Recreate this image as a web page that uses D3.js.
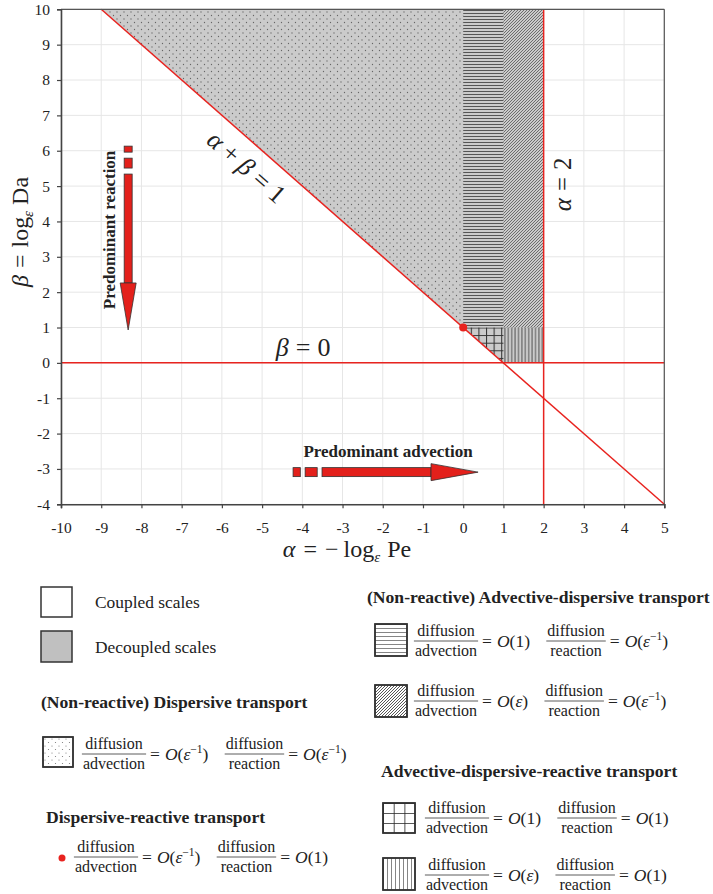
<!DOCTYPE html>
<html>
<head>
<meta charset="utf-8">
<script src="https://cdn.jsdelivr.net/npm/d3@7"></script>
<style>
body{margin:0;background:#fff}
svg text{font-family:"Liberation Serif","Times New Roman",serif;fill:#222}
</style>
</head>
<body>
<svg id="chart" width="713" height="894"></svg>
<script>
// axis ticks
var xTicks = d3.range(-10, 6);
var yTicks = d3.range(-4, 11);

// regions of the (alpha, beta) plane
var decoupled   = [[-9,10],[1,0],[2,0],[2,10]];
var dispersive  = [[-9,10],[0,1],[0,10]];
var advDispOne  = [[0,1],[1,1],[1,10],[0,10]];
var advDispEps  = [[1,1],[2,1],[2,10],[1,10]];
var adrOne      = [[0,1],[1,1],[1,0]];
var adrEps      = [[1,0],[2,0],[2,1],[1,1]];
var dispReactive = [[0,1]];

// boundary lines: alpha+beta=1, beta=0, alpha=2
var boundaries = [[[-9,10],[5,-4]], [[-10,0],[5,0]], [[2,-4],[2,10]]];

// arrows (data coords)
var reactionX = -8.33, reactionDashes = [[6.13,5.96],[5.79,5.51],[5.34,2.26]], reactionTip = 0.93;
var advectionY = -3.09, advectionDashes = [[-4.23,-4.05],[-3.93,-3.63],[-3.51,-0.80]], advectionTip = 0.37;

var red = '#e8231f';
var svg = d3.select('#chart');

var x = d3.scaleLinear().domain([-10,5]).range([61,664.3]);
var y = d3.scaleLinear().domain([-4,10]).range([504.3,9.3]);

var defs = svg.append('defs');
function pat(id, w, h, px, py){
  return defs.append('pattern').attr('id',id).attr('patternUnits','userSpaceOnUse')
    .attr('width',w).attr('height',h).attr('x',px||0).attr('y',py||0);
}
var p;
p = pat('dots',7,7);
p.append('circle').attr('cx',1.5).attr('cy',1.5).attr('r',0.65).attr('fill','#666');
p.append('circle').attr('cx',5).attr('cy',5).attr('r',0.65).attr('fill','#666');
p = pat('hlines',4,3);
p.append('line').attr('x1',0).attr('x2',4).attr('y1',1.5).attr('y2',1.5).attr('stroke','#555').attr('stroke-width',1);
p = pat('diag',3,3);
p.append('path').attr('d','M-1,1 l2,-2 M0,3 l3,-3 M2,4 l2,-2').attr('stroke','#555').attr('stroke-width',0.8);
p = pat('grid',7.6,7.6,x(0),y(1));
p.append('path').attr('d','M0,0.5 H7.6 M0.5,0 V7.6').attr('stroke','#333').attr('stroke-width',1.1).attr('fill','none');
p = pat('vlines',3.4,4);
p.append('line').attr('x1',1.7).attr('x2',1.7).attr('y1',0).attr('y2',4).attr('stroke','#555').attr('stroke-width',1);

// legend patterns
p = pat('dotsL',7,7,43,737);
p.append('circle').attr('cx',2).attr('cy',2).attr('r',0.6).attr('fill','#777');
p.append('circle').attr('cx',5.5).attr('cy',5.5).attr('r',0.6).attr('fill','#777');
p = pat('hlinesL',6,4,375,624);
p.append('line').attr('x1',0).attr('x2',6).attr('y1',0).attr('y2',0).attr('stroke','#333').attr('stroke-width',1.2);
p = pat('diagL',3,3);
p.append('path').attr('d','M-1,1 l2,-2 M0,3 l3,-3 M2,4 l2,-2').attr('stroke','#444').attr('stroke-width',0.9);
p = pat('gridL',10.7,10,383,803);
p.append('path').attr('d','M0,0 H10.7 M0,0 V10').attr('stroke','#222').attr('stroke-width',1.6).attr('fill','none');
p = pat('vlinesL',4,6,383,858);
p.append('line').attr('x1',0).attr('x2',0).attr('y1',0).attr('y2',6).attr('stroke','#333').attr('stroke-width',1.2);

// gridlines
var grid = svg.append('g');
grid.selectAll('.gx').data(xTicks).enter().append('line')
  .attr('x1',d=>x(d)).attr('x2',d=>x(d)).attr('y1',y(-4)).attr('y2',y(10))
  .attr('stroke','#e6e6e6').attr('stroke-width',1);
grid.selectAll('.gy').data(yTicks).enter().append('line')
  .attr('y1',d=>y(d)).attr('y2',d=>y(d)).attr('x1',x(-10)).attr('x2',x(5))
  .attr('stroke','#e6e6e6').attr('stroke-width',1);

var line = d3.line().x(d=>x(d[0])).y(d=>y(d[1]));
var poly = function(pts){ return line(pts) + 'Z'; };

svg.append('path').attr('d',poly(decoupled)).attr('fill','#cbcbcb');
svg.append('path').attr('d',poly(dispersive)).attr('fill','url(#dots)');
svg.append('path').attr('d',poly(advDispOne)).attr('fill','url(#hlines)');
svg.append('path').attr('d',poly(advDispEps)).attr('fill','url(#diag)');
svg.append('path').attr('d',poly(adrOne)).attr('fill','url(#grid)');
svg.append('path').attr('d',poly(adrEps)).attr('fill','url(#vlines)');

svg.selectAll('.bnd').data(boundaries).enter().append('path')
  .attr('d',line).attr('stroke',red).attr('stroke-width',1.5).attr('fill','none');

svg.selectAll('.pt').data(dispReactive).enter().append('circle')
  .attr('cx',d=>x(d[0])).attr('cy',d=>y(d[1])).attr('r',4).attr('fill',red);

// frame
svg.append('line').attr('x1',x(-10)).attr('x2',x(5)).attr('y1',y(10)).attr('y2',y(10)).attr('stroke','#555').attr('stroke-width',1.2);
svg.append('line').attr('x1',x(5)).attr('x2',x(5)).attr('y1',y(10)).attr('y2',y(-4)).attr('stroke','#555').attr('stroke-width',1.2);

var ax = svg.append('g').attr('transform','translate(0,'+y(-4)+')')
  .call(d3.axisBottom(x).tickValues(xTicks).tickSize(4).tickPadding(14).tickFormat(String));
var ay = svg.append('g').attr('transform','translate('+x(-10)+',0)')
  .call(d3.axisLeft(y).tickValues(yTicks).tickSize(4).tickPadding(7).tickFormat(String));
[ax,ay].forEach(function(a){
  a.select('.domain').attr('stroke','#444').attr('stroke-width',1.6);
  a.selectAll('.tick line').attr('stroke','#444').attr('stroke-width',1.2);
  a.selectAll('.tick text').attr('font-size',15.5).attr('font-family','"Liberation Serif",serif').attr('fill','#1a1a1a');
});

// math helper: parts = [text, italic, dy, size, dx]
function mathText(g, parts, size){
  var t = g.append('text').attr('font-size',size);
  parts.forEach(function(q){
    var s = t.append('tspan').text(q[0]);
    if(q[1]) s.attr('font-style','italic');
    if(q[2]) s.attr('dy',q[2]);
    if(q[3]) s.attr('font-size',q[3]);
    if(q[4]) s.attr('dx',q[4]);
  });
  return t;
}

// axis labels
mathText(svg,[['α',1],['=',0,0,0,8],['−',0,0,0,8],['log',0,0,0,5],['ε',1,5,15],['Pe',0,-5,0,7]],24)
  .attr('x',347).attr('y',557).attr('text-anchor','middle');
mathText(svg,[['β',1],['=',0,0,0,7],['log',0,0,0,7],['ε',1,5,15],['Da',0,-5,0,6]],24)
  .attr('text-anchor','middle').attr('transform','translate(28,232) rotate(-90)');

// annotations on plot
var ang = Math.atan2(y(0)-y(1), x(1)-x(0))*180/Math.PI;
mathText(svg,[['α',1],['+',0,0,0,6],['β',1,0,0,6],['=',0,0,0,7],['1',0,0,0,7]],26)
  .attr('text-anchor','middle').attr('dy','0.35em')
  .attr('transform','translate('+x(-5.38)+','+y(5.55)+') rotate('+ang+')');
mathText(svg,[['β',1],['=',0,0,0,7],['0',0,0,0,7]],26)
  .attr('text-anchor','middle').attr('x',x(-3.98)).attr('y',y(0.2));
mathText(svg,[['α',1],['=',0,0,0,7],['2',0,0,0,7]],25)
  .attr('text-anchor','middle').attr('dy','0.35em')
  .attr('transform','translate('+x(2.46)+','+y(5.05)+') rotate(-90)');

svg.append('text').text('Predominant reaction').attr('font-size',17).attr('font-weight','bold')
  .attr('text-anchor','middle').attr('dy','0.35em')
  .attr('transform','translate('+x(-8.81)+','+y(3.76)+') rotate(-90)');
svg.append('text').text('Predominant advection').attr('font-size',17).attr('font-weight','bold')
  .attr('text-anchor','middle').attr('x',x(-1.87)).attr('y',y(-2.66));

// arrows
var arr = svg.append('g').attr('fill','#e3201b').attr('stroke','#333').attr('stroke-width',0.8);
var rx = x(reactionX);
reactionDashes.forEach(function(d){
  arr.append('rect').attr('x',rx-4).attr('width',8).attr('y',y(d[0])).attr('height',y(d[1])-y(d[0]));
});
arr.append('path').attr('d','M'+(rx-8)+','+y(reactionDashes[2][1])+' L'+(rx+8)+','+y(reactionDashes[2][1])+' L'+rx+','+y(reactionTip)+'Z');
var ry = y(advectionY);
advectionDashes.forEach(function(d){
  arr.append('rect').attr('y',ry-4.5).attr('height',9).attr('x',x(d[0])).attr('width',x(d[1])-x(d[0]));
});
arr.append('path').attr('d','M'+x(advectionDashes[2][1])+','+(ry-8.5)+' L'+x(advectionDashes[2][1])+','+(ry+8.5)+' L'+x(advectionTip)+','+ry+'Z');

// ---------- legend ----------
var lg = svg.append('g');
function box(bx, by, w, h, fill, pattern){
  lg.append('rect').attr('x',bx).attr('y',by).attr('width',w).attr('height',h).attr('fill',fill)
    .attr('stroke','#333').attr('stroke-width',1.5);
  if(pattern) lg.append('rect').attr('x',bx).attr('y',by).attr('width',w).attr('height',h)
    .attr('fill','url(#'+pattern+')').attr('stroke','#333').attr('stroke-width',1.5);
}
function label(t, lx, ly, bold){
  lg.append('text').text(t).attr('x',lx).attr('y',ly).attr('font-size',bold?17.6:17.4)
    .attr('font-weight',bold?'bold':'normal');
}
function frac(cx, yc, num, den){
  var a = lg.append('text').text(num).attr('x',cx).attr('y',yc-5).attr('text-anchor','middle').attr('font-size',16);
  var b = lg.append('text').text(den).attr('x',cx).attr('y',yc+15).attr('text-anchor','middle').attr('font-size',16);
  var w = Math.max(a.node().getComputedTextLength(), b.node().getComputedTextLength()) + 2;
  lg.append('line').attr('x1',cx-w/2).attr('x2',cx+w/2).attr('y1',yc).attr('y2',yc).attr('stroke','#333').attr('stroke-width',0.8);
  return cx + w/2;
}
function eq(ex, yc, arg){
  var parts = [['=',0],['O',1,0,0,5],['(',0]];
  if(arg==='e-1') parts.push(['ε',1],['−1',0,-7,11.5],[')',0,7]);
  else if(arg==='e') parts.push(['ε',1],[')',0]);
  else parts.push(['1)',0]);
  var t = mathText(lg, parts, 17.5).attr('x',ex).attr('y',yc+6);
  return ex + t.node().getComputedTextLength() + 5;
}
function formula(fx, yc, advArg, reaArg){
  var f1 = frac(fx+31, yc, 'diffusion', 'advection');
  var e1 = eq(f1+4, yc, advArg);
  var f2 = frac(e1+19+27, yc, 'diffusion', 'reaction');
  eq(f2+4, yc, reaArg);
}

box(41,587,31,30,'#fff');
label('Coupled scales',95,608);
box(41,631,31,31,'#c0c0c0');
label('Decoupled scales',95,653);

label('(Non-reactive) Dispersive transport',41,708,true);
box(43,737,30,30,'#fff','dotsL');
formula(83,754,'e-1','e-1');

label('Dispersive-reactive transport',46,823,true);
lg.append('circle').attr('cx',62).attr('cy',858).attr('r',3.5).attr('fill',red);
formula(75,857,'e-1','1');

label('(Non-reactive) Advective-dispersive transport',367,603,true);
box(375,624,32,32,'#fff','hlinesL');
formula(415,641,'1','e-1');
box(375,685,32,32,'#fff','diagL');
formula(415,701,'e','e-1');

label('Advective-dispersive-reactive transport',381,777,true);
box(383,803,32,30,'#fff','gridL');
formula(426,818,'1','1');
box(383,858,32,32,'#fff','vlinesL');
formula(426,875,'e','1');
</script>
</body>
</html>
